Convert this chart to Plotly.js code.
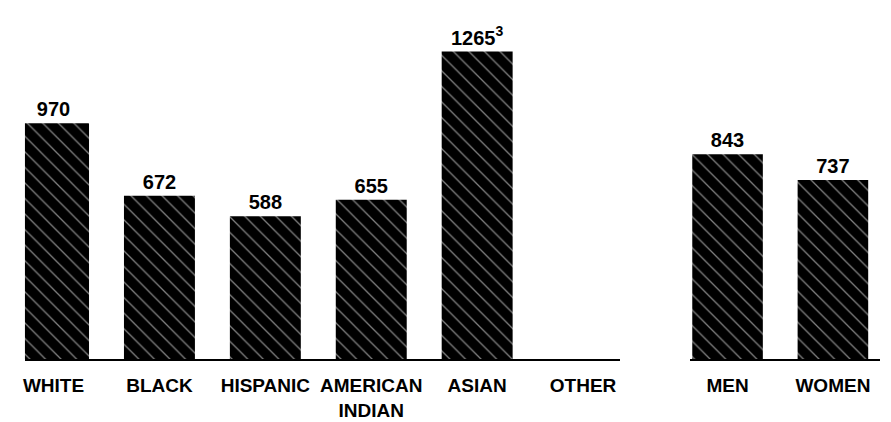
<!DOCTYPE html>
<html>
<head>
<meta charset="utf-8">
<script src="https://cdn.plot.ly/plotly-3.0.1.min.js"></script>
<style>html,body{margin:0;padding:0;background:#fff;}#chart{width:891px;height:422px;}</style>
</head>
<body>
<div id="chart"></div>
<script>
// Data
const groupCategories = ["WHITE", "BLACK", "HISPANIC", "AMERICAN<br>INDIAN", "ASIAN", "OTHER"];
const groupValues = [970, 672, 588, 655, 1265, null];
const groupLabels = ["970", "672", "588", "655", "1265<sup>3</sup>", null];

const sexCategories = ["MEN", "WOMEN"];
const sexValues = [843, 737];
const sexLabels = ["843", "737"];

const FONT = "Liberation Sans, Arial, sans-serif";
const pattern = {shape: "\\", fgcolor: "#ffffff", bgcolor: "#000000", size: 11, solidity: 0.12, fillmode: "overlay"};

const common = {
  type: "bar",
  width: 0.67,
  marker: {color: "#000000", line: {width: 0}, pattern: pattern},
  textposition: "outside",
  cliponaxis: false,
  textfont: {family: FONT, size: 20, color: "#000", weight: "bold"},
  hoverinfo: "skip"
};

const traces = [
  Object.assign({}, common, {x: groupCategories, y: groupValues, text: groupLabels, xaxis: "x", yaxis: "y"}),
  Object.assign({}, common, {x: sexCategories, y: sexValues, text: sexLabels, xaxis: "x2", yaxis: "y"})
];

const xcommon = {
  type: "category",
  showline: true, linecolor: "#000", linewidth: 2,
  showgrid: false, zeroline: false,
  ticks: "outside", ticklen: 8, tickcolor: "rgba(0,0,0,0)",
  tickfont: {family: FONT, size: 19, color: "#000", weight: "bold"},
  tickangle: 0, fixedrange: true
};

const layout = {
  width: 891, height: 422,
  margin: {l: 0, r: 0, t: 0, b: 0},
  paper_bgcolor: "#fff", plot_bgcolor: "#fff",
  showlegend: false,
  xaxis: Object.assign({}, xcommon, {domain: [0.028, 0.696], range: [-0.27, 5.35], anchor: "y"}),
  xaxis2: Object.assign({}, xcommon, {domain: [0.774, 0.988], range: [-0.36, 1.45], anchor: "y"}),
  yaxis: {domain: [0.149, 0.898], range: [0, 1300], visible: false, fixedrange: true}
};

Plotly.newPlot("chart", traces, layout, {displayModeBar: false, staticPlot: true});
</script>
</body>
</html>
